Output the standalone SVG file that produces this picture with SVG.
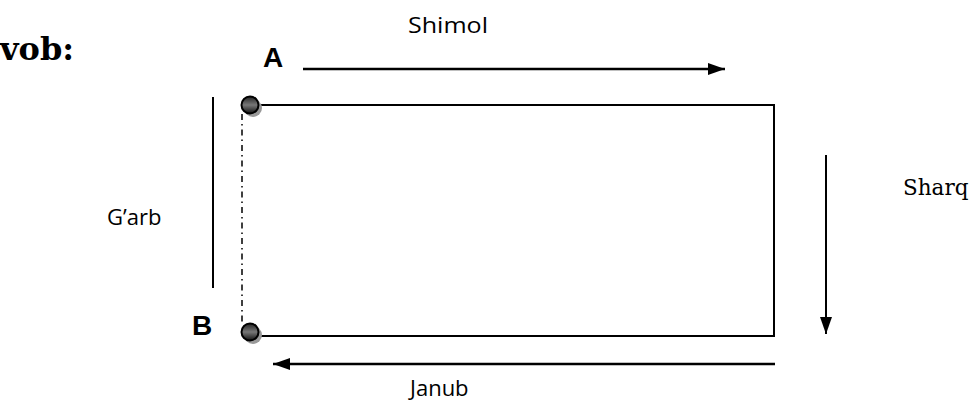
<svg xmlns="http://www.w3.org/2000/svg" width="976" height="414" viewBox="0 0 976 414">
<style>
.ln{stroke:#000;stroke-width:2;fill:none}
.sans{font-family:"Open Sans","Liberation Sans",sans-serif;font-size:22px;fill:#000}
.bold{font-family:"Liberation Sans",Arial,sans-serif;font-weight:bold;font-size:28px;fill:#000}
.serif{font-family:"DejaVu Serif","Liberation Serif",serif;fill:#000}
</style>
<defs>
<marker id="ah2" viewBox="0 0 17 12" refX="17" refY="6" markerWidth="17" markerHeight="12" markerUnits="userSpaceOnUse" orient="auto">
<path d="M0,0 L17,6 L0,12 Z" fill="#000"/>
</marker>
<linearGradient id="ball" x1="0" y1="0" x2="0" y2="1">
<stop offset="0" stop-color="#222"/>
<stop offset="0.5" stop-color="#777"/>
<stop offset="1" stop-color="#111"/>
</linearGradient>
</defs>
<text class="serif" x="0" y="60" font-size="32" font-weight="bold">vob:</text>
<g id="rect-node">
<path class="ln" d="M258,105 H774 V336 H258"/>
</g>
<g id="connectors">
<line x1="213" y1="97" x2="213" y2="288" stroke="#000" stroke-width="2"/>
<line x1="242" y1="114" x2="242" y2="325" stroke="#000" stroke-width="1.5" stroke-dasharray="6,4,1.5,4"/>
<line x1="303" y1="69" x2="725" y2="69" stroke="#000" stroke-width="2.5" marker-end="url(#ah2)"/>
<line x1="826" y1="155" x2="826" y2="334" stroke="#000" stroke-width="2" marker-end="url(#ah2)"/>
<line x1="775" y1="364" x2="273" y2="364" stroke="#000" stroke-width="2.5" marker-end="url(#ah2)"/>
</g>
<g id="point-A">
<circle cx="253" cy="108" r="9" fill="#999"/>
<circle cx="250" cy="105" r="8.5" fill="url(#ball)" stroke="#000" stroke-width="2"/>
<text class="bold" x="263" y="67">A</text>
</g>
<g id="point-B">
<circle cx="253" cy="335" r="9" fill="#999"/>
<circle cx="250" cy="332" r="8.5" fill="url(#ball)" stroke="#000" stroke-width="2"/>
<text class="bold" x="192" y="335">B</text>
</g>
<g id="labels">
<text class="sans" x="408" y="33" textLength="80" lengthAdjust="spacingAndGlyphs">Shimol</text>
<text class="serif" x="903" y="195" font-size="21.5">Sharq</text>
<text class="sans" x="107" y="225" font-size="20">G’arb</text>
<text class="sans" x="410" y="396" font-size="20">Janub</text>
</g>
</svg>
